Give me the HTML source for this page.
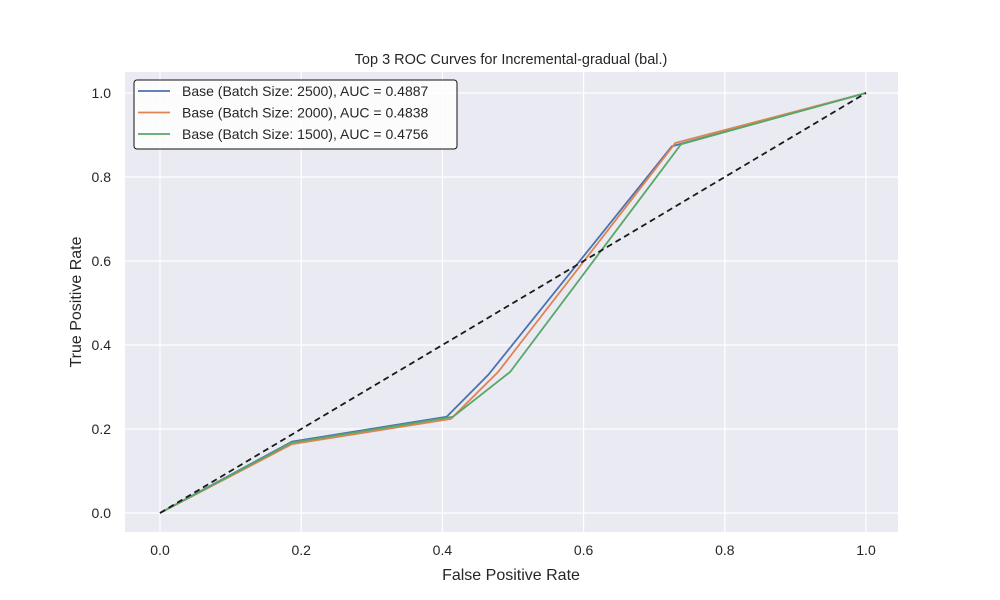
<!DOCTYPE html>
<html><head><meta charset="utf-8"><style>body{margin:0;background:#fff}svg{display:block;font-family:"Liberation Sans",sans-serif}</style></head>
<body>
<svg id="c" width="1000" height="600">
<rect x="125" y="72" width="773" height="460" fill="#eaeaf2"/>
<g id="grid"></g><g id="series"></g><g id="ticks"></g>
<text x="511" y="64" font-size="14.5" text-anchor="middle" fill="#262626">Top 3 ROC Curves for Incremental-gradual (bal.)</text>
<text x="511" y="580" font-size="16" text-anchor="middle" fill="#262626">False Positive Rate</text>
<text x="81" y="302" font-size="16" text-anchor="middle" fill="#262626" transform="rotate(-90 81 302)">True Positive Rate</text>
<g id="legend">
<rect x="134" y="80" width="323" height="69" rx="3" fill="#ffffff" fill-opacity="0.85" stroke="#111" stroke-width="1"/>
</g>
</svg>
<script>
const seriesNames=["Base (Batch Size: 2500), AUC = 0.4887","Base (Batch Size: 2000), AUC = 0.4838","Base (Batch Size: 1500), AUC = 0.4756"];
const colors=["#4c72b0","#dd8452","#55a868"];
const fpr2500=[0,0.187,0.406,0.465,0.725,1];
const tpr2500=[0,0.170,0.229,0.329,0.873,1];
const fpr2000=[0,0.187,0.412,0.479,0.730,1];
const tpr2000=[0,0.164,0.224,0.336,0.881,1];
const fpr1500=[0,0.187,0.415,0.496,0.738,1];
const tpr1500=[0,0.168,0.229,0.336,0.878,1];
const ticks=[0,0.2,0.4,0.6,0.8,1.0];
const tickLabels=["0.0","0.2","0.4","0.6","0.8","1.0"];
const xs=v=>160+v*706, ys=v=>513-v*420;
const NS="http://www.w3.org/2000/svg";
function mk(t,a,p){const e=document.createElementNS(NS,t);for(const k in a)e.setAttribute(k,a[k]);p.appendChild(e);return e;}
const g=document.getElementById('grid'),tk=document.getElementById('ticks'),s=document.getElementById('series'),lg=document.getElementById('legend');
ticks.forEach((t,i)=>{
 let l=mk('line',{x1:xs(t),x2:xs(t),y1:72,y2:532,stroke:'#fff','stroke-width':1.2},g);
 
 
 l=mk('line',{x1:125,x2:898,y1:ys(t),y2:ys(t),stroke:'#fff','stroke-width':1.2},g);
 
 
 let tx=mk('text',{x:xs(t),y:555,'font-size':14,'text-anchor':'middle',fill:'#262626'},tk);tx.textContent=tickLabels[i];
 
 
 tx=mk('text',{x:111,y:ys(t)+5,'font-size':14,'text-anchor':'end',fill:'#262626'},tk);tx.textContent=tickLabels[i];
 
 
});
const data=[[fpr2500,tpr2500],[fpr2000,tpr2000],[fpr1500,tpr1500]];
data.forEach((d,i)=>{
 const p=mk('polyline',{points:d[0].map((x,j)=>xs(x)+','+ys(d[1][j])).join(' '),fill:'none',stroke:colors[i],'stroke-width':1.8},s);
 
 
 const y=91+i*21.5;
 const l=mk('line',{x1:138,x2:170,y1:y,y2:y,stroke:colors[i],'stroke-width':1.8},lg);
 
 
 const t=mk('text',{x:182,y:y+5,'font-size':14,fill:'#262626'},lg);t.textContent=seriesNames[i];
 
 
});
const dg=mk('line',{x1:xs(0),y1:ys(0),x2:xs(1),y2:ys(1),stroke:'#1a1a1a','stroke-width':1.8,'stroke-dasharray':'6,4'},s);


</script>
</body></html>
